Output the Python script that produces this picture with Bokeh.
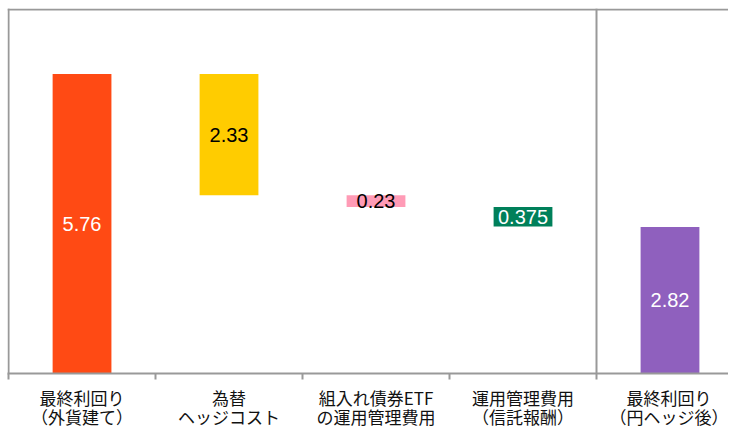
from bokeh.plotting import figure
from bokeh.models import ColumnDataSource, FixedTicker, Span, Range1d
from bokeh.core.properties import value
from bokeh.embed import file_html
from bokeh.resources import INLINE

categories = ["最終利回り\n（外貨建て）", "為替\nヘッジコスト", "組入れ債券ETF\nの運用管理費用",
              "運用管理費用\n（信託報酬）", "最終利回り\n（円ヘッジ後）"]
changes = [5.76, -2.33, -0.23, -0.375, 2.82]
kinds = ["total", "delta", "delta", "delta", "total"]
labels = ["5.76", "2.33", "0.23", "0.375", "2.82"]
bar_colors = ["#FF4A14", "#FFCC00", "#FF9BB6", "#00805A", "#8F60BE"]
label_colors = ["white", "black", "black", "white", "white"]

xs, bottoms, tops, mids = [], [], [], []
running = 0.0
for i, (v, k) in enumerate(zip(changes, kinds)):
    if k == "total":
        b, t = 0.0, v
        running = v
    else:
        t = running
        b = running + v
        running = b
    xs.append(i + 0.5)
    bottoms.append(b)
    tops.append(t)
    mids.append((b + t) / 2)

src = ColumnDataSource(dict(x=xs, bottom=bottoms, top=tops, mid=mids, label=labels,
                            color=bar_colors, lcolor=label_colors))

p = figure(frame_width=721, frame_height=365, x_range=Range1d(-0.007, 4.898), y_range=Range1d(0, 7.02),
           output_backend="svg", toolbar_location=None,
           min_border_left=7, min_border_top=8, min_border_right=0, min_border_bottom=51)
p.outline_line_color = None
p.xgrid.visible = False
p.ygrid.visible = False
p.yaxis.visible = False

p.vbar(x="x", width=0.4, bottom="bottom", top="top", fill_color="color", line_color=None, source=src)
p.text(x="x", y="mid", text="label", text_color="lcolor", text_align="center", text_baseline="middle",
       text_font=value("Liberation Sans"), text_font_size="20px", source=src)

gray = "#999999"
p.add_layout(Span(location=0, dimension="height", line_color=gray, line_width=2))
p.add_layout(Span(location=7.0, dimension="width", line_color=gray, line_width=2))
p.add_layout(Span(location=4, dimension="height", line_color=gray, line_width=2))

ax = p.xaxis[0]
ax.ticker = FixedTicker(ticks=xs, minor_ticks=[0, 1, 2, 3, 4])
ax.major_label_overrides = {x: c for x, c in zip(xs, categories)}
ax.major_tick_line_color = None
ax.major_tick_out = 0
ax.major_tick_in = 0
ax.minor_tick_out = 6
ax.minor_tick_in = 0
ax.minor_tick_line_color = gray
ax.minor_tick_line_width = 2
ax.axis_line_color = gray
ax.axis_line_width = 2
ax.major_label_standoff = 5
ax.major_label_text_font = "Noto Sans CJK JP"
ax.major_label_text_font_size = "17px"
ax.major_label_text_line_height = 0.76
ax.major_label_text_color = "#111111"

open("out.html", "w").write(file_html(p, INLINE))
